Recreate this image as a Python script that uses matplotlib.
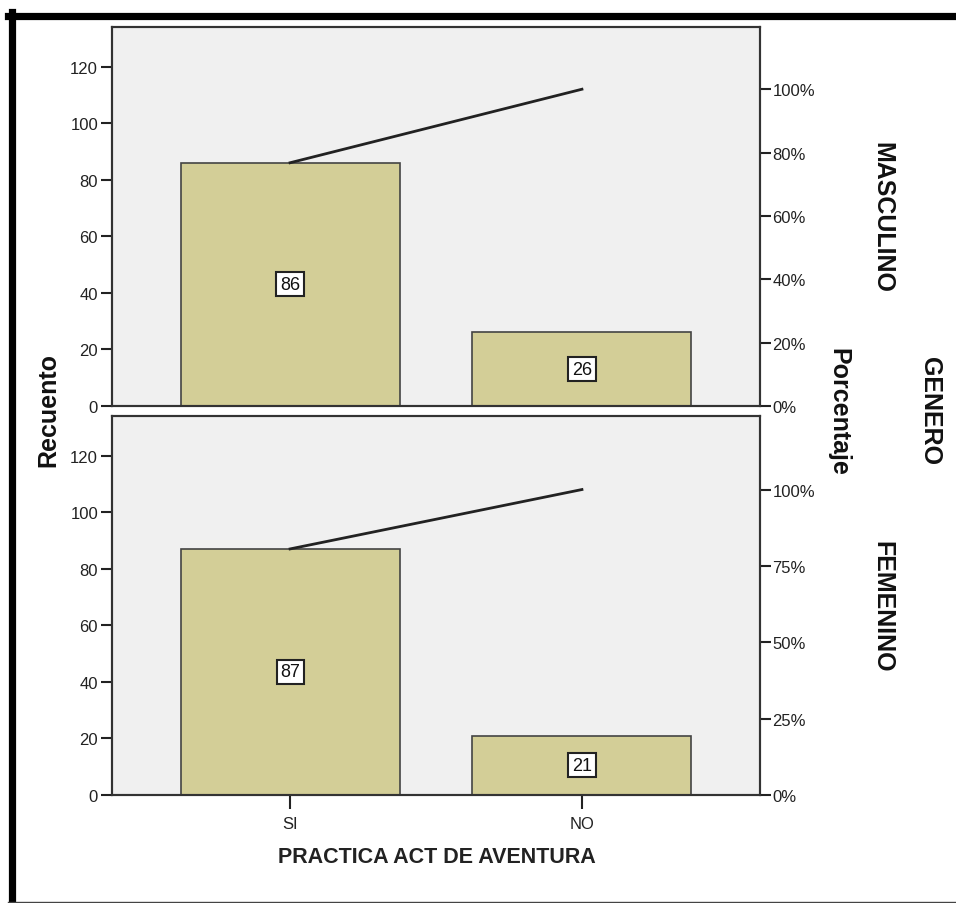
import matplotlib
matplotlib.use("Agg")
import matplotlib.pyplot as plt
import numpy as np
from matplotlib.lines import Line2D
from matplotlib.ticker import FixedLocator

plt.rcParams['font.family'] = ['Liberation Sans', 'DejaVu Sans']

categories = ['SI', 'NO']
masculino = [86, 26]
femenino = [87, 21]
pct_ticks_top = [0, 20, 40, 60, 80, 100]
pct_ticks_bottom = [0, 25, 50, 75, 100]
count_ticks = [0, 20, 40, 60, 80, 100, 120]
panel_labels = ['MASCULINO', 'FEMENINO']

W, H = 956, 904
fig = plt.figure(figsize=(W / 100, H / 100), dpi=100)

def fx(x):
    return x / W

def fy(y):
    return 1 - y / H

bar_color = '#d3ce97'
bg = '#f0f0f0'
edge = '#333333'
ymax = 134

panels = [(masculino, pct_ticks_top, 28, 407), (femenino, pct_ticks_bottom, 417, 796)]
x = np.arange(len(categories))
for i, (vals, pticks, ytop, ybot) in enumerate(panels):
    ax = fig.add_axes([fx(112), fy(ybot), (760 - 112) / W, (ybot - ytop) / H])
    ax.set_facecolor(bg)
    ax.bar(x, vals, width=0.75, color=bar_color, edgecolor='#444444', linewidth=1.2, zorder=2)
    total = sum(vals)
    cum = np.cumsum(vals)
    ax.plot(x, cum, color='#222222', linewidth=2, zorder=3)
    for xi, v in zip(x, vals):
        ax.text(xi, v / 2, str(v), ha='center', va='center', fontsize=13, color='#111111',
                bbox=dict(boxstyle='square,pad=0.2', facecolor='white', edgecolor='#222222', linewidth=1.5),
                zorder=4)
    ax.set_xlim(-0.61, 1.61)
    ax.set_ylim(0, ymax)
    ax.yaxis.set_major_locator(FixedLocator(count_ticks))
    ax.tick_params(axis='y', direction='out', length=8, width=1.5, labelsize=12, colors='#222222', pad=2)
    for s in ax.spines.values():
        s.set_color(edge)
        s.set_linewidth(1.5)
    if i == 0:
        ax.set_xticks([])
    else:
        ax.set_xticks(x)
        ax.set_xticklabels(categories)
        ax.tick_params(axis='x', direction='out', length=10, width=1.5, labelsize=12, colors='#222222', pad=5)
    ax2 = ax.twinx()
    ax2.set_ylim(0, ymax / total * 100)
    ax2.yaxis.set_major_locator(FixedLocator(pticks))
    ax2.set_yticklabels([f'{t}%' for t in pticks])
    ax2.tick_params(axis='y', direction='out', length=8, width=1.5, labelsize=12, colors='#222222', pad=1)
    for s in ax2.spines.values():
        s.set_color(edge)
        s.set_linewidth(1.5)

lbl = dict(fontsize=18, fontweight='bold', color='#111111', ha='center', va='center')
fig.text(fx(48), fy(410), 'Recuento', rotation=90, **lbl)
fig.text(fx(838), fy(412), 'Porcentaje', rotation=-90, **lbl)
fig.text(fx(930), fy(411), 'GENERO', rotation=-90, **lbl)
fig.text(fx(882), fy(217), panel_labels[0], rotation=-90, **lbl)
fig.text(fx(882), fy(607), panel_labels[1], rotation=-90, **lbl)
fig.text(fx(437), fy(858), 'PRACTICA ACT DE AVENTURA', fontsize=15.5, fontweight='bold',
         color='#222222', ha='center', va='center')

# outer frame
fig.add_artist(Line2D([fx(8), fx(956)], [fy(16.5), fy(16.5)], color='black', linewidth=5.2))
fig.add_artist(Line2D([fx(11.5), fx(11.5)], [fy(13), fy(904)], color='black', linewidth=5.2))
fig.add_artist(Line2D([fx(8), fx(956)], [fy(902.5), fy(902.5)], color='#444444', linewidth=1.0))

fig.savefig('out.png', dpi=100, facecolor='white')
